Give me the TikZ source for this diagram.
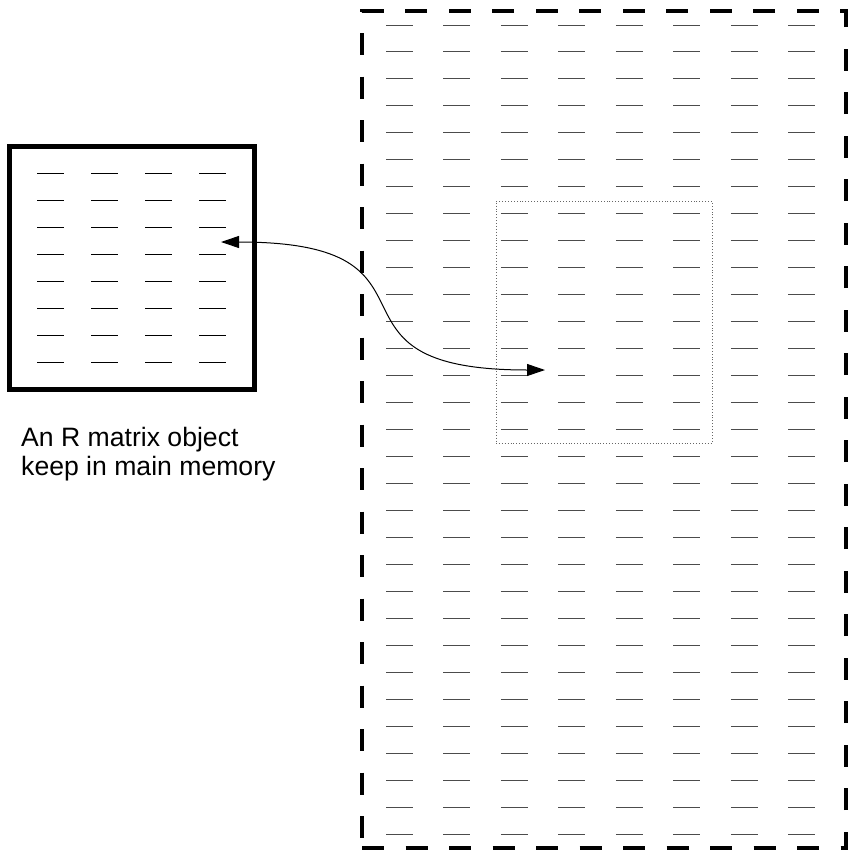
\documentclass[tikz,border=0pt]{standalone}
\usepackage{fontspec}
\setmainfont{Liberation Sans}
\usetikzlibrary{arrows.meta}

\begin{document}
\begin{tikzpicture}[
      x=1pt, y=-1pt,
      membox/.style={draw, line width=5pt, inner sep=0pt, minimum width=244.5pt, minimum height=243pt},
      diskbox/.style={draw, line width=4.3pt, dash pattern=on 22pt off 21.5pt, inner sep=0pt, minimum width=484pt, minimum height=837pt},
      chunkbox/.style={draw=black!60, line width=0.9pt, dotted, inner sep=0pt, minimum width=216pt, minimum height=242pt},
      cell/.style={line width=1pt},
      diskcell/.style={cell, draw=black!70},
      >={Triangle[length=18pt, width=12pt]},
    ]
    \useasboundingbox (0,0) rectangle (849,857);
    \node[membox] (mem) at (131.75,268) {};
    \node[diskbox] (disk) at (604,429.5) {};
    \node[chunkbox] (chunk) at (604,322) {};
    \foreach \i in {0,...,3}
      \foreach \j in {0,...,7}
        \draw[cell] (37+54*\i, 173.3+27*\j) -- ++(27,0);
    \foreach \i in {0,...,7}
      \foreach \j in {0,...,30}
        \draw[diskcell] (386+57.47*\i, 25+26.97*\j) -- ++(27,0);
    \node[anchor=north west, inner sep=0pt, align=left, font=\fontsize{26.6}{29}\selectfont] (caption) at (21,427)
      {An R matrix object\\keep in main memory};
    \coordinate (memend) at (221,242);
    \coordinate (chunkend) at (545,370);
    \draw[<->, line width=1pt] (memend) .. controls +(243,0) and +(-243,0) .. (chunkend);
  \end{tikzpicture}
\end{document}
